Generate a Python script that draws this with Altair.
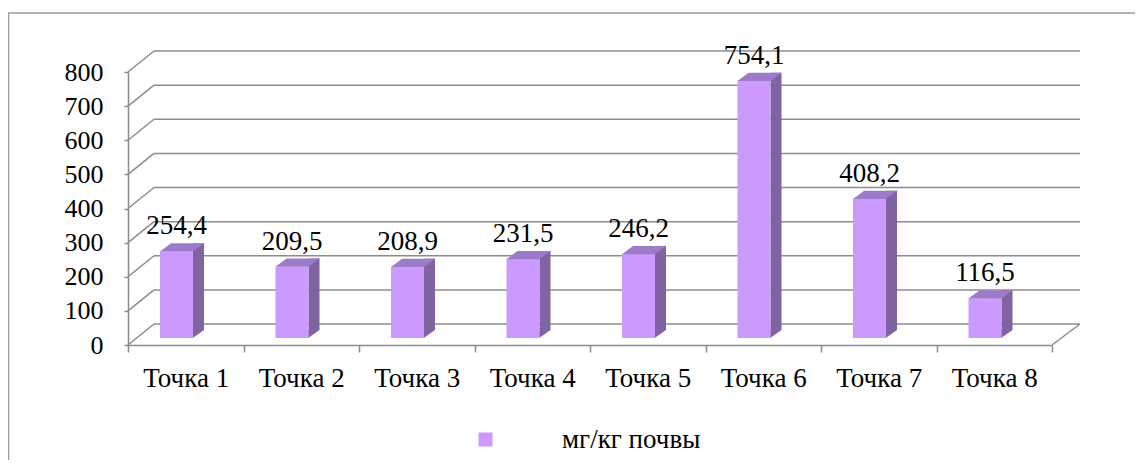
import altair as alt
import pandas as pd

# ---- data ----
categories = ["Точка 1", "Точка 2", "Точка 3", "Точка 4",
              "Точка 5", "Точка 6", "Точка 7", "Точка 8"]
values = [254.4, 209.5, 208.9, 231.5, 246.2, 754.1, 408.2, 116.5]
value_labels = ["254,4", "209,5", "208,9", "231,5", "246,2", "754,1", "408,2", "116,5"]
series_name = "мг/кг почвы"
y_ticks = [0, 100, 200, 300, 400, 500, 600, 700, 800]

df = pd.DataFrame({
    "cat": categories,
    "v": values,
    "label": value_labels,
    "series": [series_name] * len(categories),
})
grid_df = pd.DataFrame({"t": y_ticks})

# ---- styling ----
W, H = 924, 273
DX, DY = 26, -21          # depth offset of the back wall
DXR = 28                  # depth offset at the right floor corner
GRID = "#8c8c8c"
FONT = "Liberation Serif"
FS = 27
FS_Y = 26
FRONT = "#CC99FF"
SIDE = "#8064A2"
TOP = "#9C7BC8"
BAR_W = 33
SIDE_W = 11
BX = -9.25                # front face centre relative to band centre
BY = -7                   # bar base lifted (mid depth)
SKEW_X, SKEW_Y = 11, -8

y_scale = alt.Scale(domain=[0, 800], nice=False, zero=True)
x_scale = alt.Scale(paddingInner=0, paddingOuter=0)

x_axis = alt.Axis(title=None, tickBand="extent", labelAngle=0, labelFont=FONT,
                  labelFontSize=FS, labelColor="black", tickColor=GRID, tickSize=7,
                  tickWidth=1.5, domainColor=GRID, domainWidth=1.5, labelPadding=13.5,
                  grid=False)
y_axis = alt.Axis(title=None, values=y_ticks, labelFont=FONT, labelFontSize=FS_Y,
                  labelColor="black", tickColor=GRID, tickSize=4, tickWidth=1.5,
                  domainColor=GRID, domainWidth=1.5, labelPadding=21, grid=False,
                  labelBaseline="middle")

X = alt.X("cat:N", sort=categories, scale=x_scale, axis=x_axis)


def Y(field):
    return alt.Y(field, scale=y_scale, axis=y_axis)


# frame (page border)
frame = alt.Chart(grid_df).mark_rect(filled=False, stroke="#9a9a9a", strokeWidth=1.5).encode(
    x=alt.value(-119.5), x2=alt.value(1100), y=alt.value(-59), y2=alt.value(420)
).transform_filter(alt.datum.t == 0)

# back wall gridlines
back = alt.Chart(grid_df).mark_rule(color=GRID, strokeWidth=1.5, yOffset=DY, y2Offset=DY).encode(
    y=Y("t:Q"), x=alt.value(DX), x2=alt.value(W + DXR),
)
# left diagonals
diag = alt.Chart(grid_df).mark_rule(color=GRID, strokeWidth=1.5, y2Offset=DY).encode(
    y=Y("t:Q"), y2="t:Q", x=alt.value(0), x2=alt.value(DX),
)
# right floor diagonal
diag_r = alt.Chart(grid_df).mark_rule(color=GRID, strokeWidth=1.5, y2Offset=DY).encode(
    y=Y("t:Q"), y2="t:Q", x=alt.value(W), x2=alt.value(W + DXR),
).transform_filter(alt.datum.t == 0)

# side faces (shifted back by the skew), completed by a triangle at the base
side = alt.Chart(df).mark_bar(color=SIDE, width=SIDE_W, xOffset=BX + BAR_W / 2 + SIDE_W / 2,
                              yOffset=BY + SKEW_Y).encode(
    x=X, y=Y("v:Q"),
)
h = BAR_W / 2
base_path = (f"M{h - 0.3},{SKEW_Y - 0.5}L{h - 0.3},0L{h + SIDE_W},{SKEW_Y}"
             f"L{h + SIDE_W},{SKEW_Y - 0.5}Z")
side_base = alt.Chart(df).mark_point(shape=base_path, size=4, filled=True, fill=SIDE,
                                     opacity=1, strokeWidth=0, xOffset=BX, yOffset=BY).encode(
    x=X, y=Y("zero_v:Q")
).transform_calculate(zero_v="0")

# front faces (with legend)
front = alt.Chart(df).mark_bar(width=BAR_W, xOffset=BX, yOffset=BY).encode(
    x=X, y=Y("v:Q"),
    color=alt.Color("series:N", scale=alt.Scale(range=[FRONT]),
                    legend=alt.Legend(title=None, orient="none", legendX=344, legendY=354,
                                      padding=0, symbolType="square", symbolSize=196,
                                      symbolStrokeWidth=0, labelOffset=63, labelFont=FONT,
                                      labelFontSize=FS, labelColor="black",
                                      labelBaseline="middle")),
)
# top faces
top_path = f"M{-h},0.3L{h},0.3L{h + SKEW_X},{SKEW_Y}L{-h + SKEW_X},{SKEW_Y}Z"
top = alt.Chart(df).mark_point(shape=top_path, size=4, filled=True, fill=TOP, opacity=1,
                               strokeWidth=0, xOffset=BX, yOffset=BY).encode(
    x=X, y=Y("v:Q")
)
# value labels
labels = alt.Chart(df).mark_text(font=FONT, fontSize=FS, color="black", baseline="alphabetic",
                                 align="center", xOffset=BX, yOffset=BY - 17).encode(
    x=X, y=Y("v:Q"), text="label:N"
)

chart = alt.layer(frame, back, diag, diag_r, side, side_base, front, top, labels).properties(
    width=W, height=H,
    background="white",
    autosize=alt.AutoSizeParams(type="none"),
    padding={"left": 120, "top": 64, "right": 83, "bottom": 115},
).configure_view(stroke=None)

chart.save("out.html", embed_options={"renderer": "svg", "actions": False})
